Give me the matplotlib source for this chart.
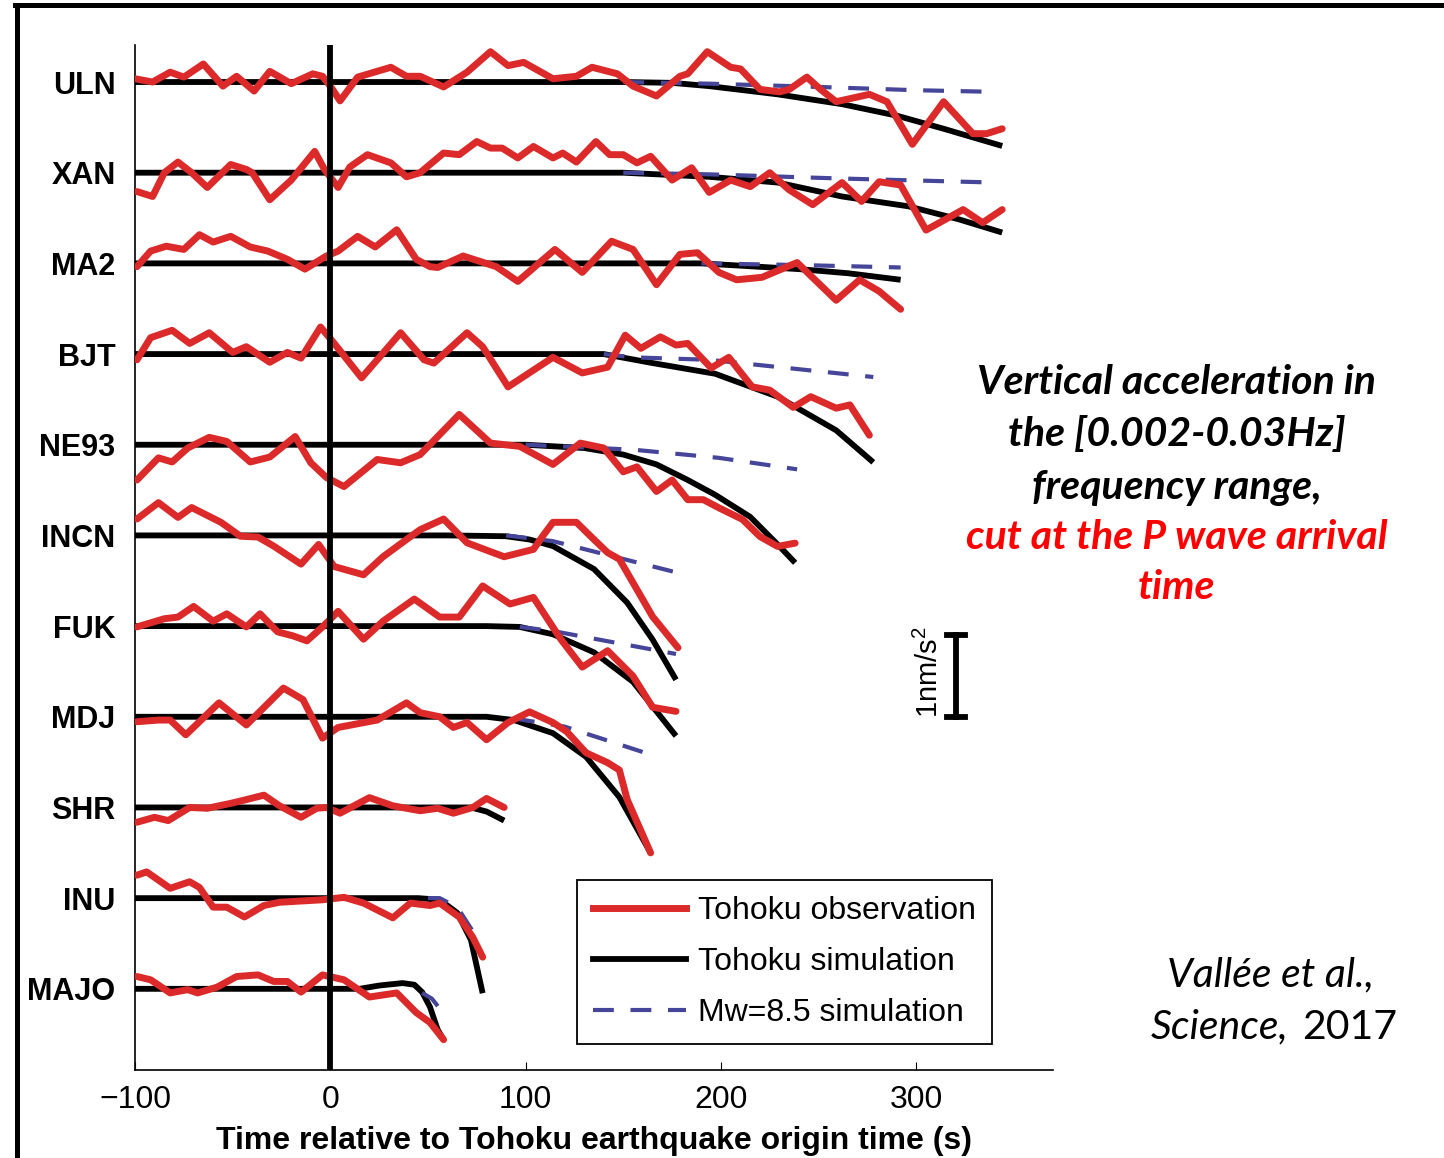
import matplotlib
matplotlib.use("Agg")
import matplotlib.pyplot as plt
from matplotlib.lines import Line2D

plt.rcParams["font.family"] = ["Liberation Sans", "DejaVu Sans"]
plt.rcParams["mathtext.fontset"] = "custom"
plt.rcParams["mathtext.rm"] = "Liberation Sans"
plt.rcParams["mathtext.it"] = "Liberation Sans:italic"

# stations, top to bottom
stations = ["ULN", "XAN", "MA2", "BJT", "NE93", "INCN", "FUK", "MDJ", "SHR", "INU", "MAJO"]
spacing = 1.106  # nm/s^2 between two traces

# time (s) / vertical acceleration (nm/s^2)
# obs = Tohoku observation, sim = Tohoku simulation, m85 = Mw=8.5 simulation
uln_obs_t = [-100, -91, -82, -75, -65, -55, -48, -39, -31, -20, -9, -4, 0, 5, 14, 31, 39, 46, 58, 70,
             82, 91, 99, 114, 126, 134, 147, 155, 167, 179, 183, 193, 205, 210, 220, 230, 235, 244, 251, 259,
             276, 285, 298, 314, 329, 336, 344]
uln_obs_a = [0.04, 0, 0.12, 0.06, 0.22, -0.05, 0.07, -0.11, 0.13, -0.02, 0.10, 0.07, -0.05, -0.23, 0.06, 0.18, 0.07, 0.07, -0.06, 0.12,
             0.37, 0.20, 0.24, 0.04, 0.07, 0.18, 0.10, -0.05, -0.17, 0.07, 0.10, 0.37, 0.18, 0.16, -0.09, -0.12, -0.09, 0.06, -0.09, -0.24,
             -0.15, -0.24, -0.76, -0.24, -0.63, -0.63, -0.57]
uln_sim_t = [-100, 150, 175, 194, 229, 262, 290, 314, 344]
uln_sim_a = [0, 0, -0.01, -0.05, -0.15, -0.27, -0.41, -0.57, -0.78]
uln_m85_t = [150, 194, 250, 300, 340]
uln_m85_a = [0, -0.02, -0.06, -0.10, -0.12]

xan_obs_t = [-99, -91, -85, -78, -71, -63, -51, -43, -40, -31, -20, -8, -3, 4, 10, 19, 31, 39, 46, 58,
             66, 75, 82, 88, 96, 104, 114, 119, 126, 136, 143, 150, 157, 164, 175, 185, 194, 205, 215, 225,
             235, 247, 262, 272, 281, 292, 305, 324, 334, 344]
xan_obs_a = [-0.23, -0.29, 0, 0.13, 0, -0.18, 0.10, 0.04, 0, -0.33, -0.09, 0.26, 0.04, -0.18, 0.07, 0.22, 0.12, -0.05, 0, 0.24,
             0.22, 0.38, 0.30, 0.30, 0.18, 0.32, 0.18, 0.24, 0.13, 0.38, 0.22, 0.22, 0.12, 0.20, -0.09, 0.06, -0.24, -0.09, -0.17, 0,
             -0.21, -0.39, -0.12, -0.35, -0.11, -0.15, -0.70, -0.45, -0.61, -0.45]
xan_sim_t = [-100, 150, 194, 229, 262, 296, 322, 344]
xan_sim_a = [0, 0, -0.05, -0.12, -0.29, -0.41, -0.57, -0.73]
xan_m85_t = [150, 194, 260, 340]
xan_m85_a = [0, -0.02, -0.07, -0.12]

ma2_obs_t = [-99, -92, -84, -75, -67, -60, -51, -41, -32, -22, -13, -2, 4, 14, 23, 34, 44, 51,
             55, 68, 85, 96, 115, 129, 144, 155, 167, 179, 188, 199,
             208, 221, 239, 259, 271, 281, 292]
ma2_obs_a = [-0.04, 0.15, 0.21, 0.17, 0.35, 0.26, 0.33, 0.20, 0.15, 0.05, -0.07, 0.09, 0.15, 0.33, 0.20, 0.41, 0.05, -0.04,
             -0.05, 0.09, -0.04, -0.22, 0.17, -0.11, 0.27, 0.17, -0.26, 0.11, 0.13, -0.11,
             -0.20, -0.17, 0.01, -0.45, -0.20, -0.34, -0.56]
ma2_sim_t = [-100, 190, 240, 265, 292]
ma2_sim_a = [0, 0, -0.07, -0.12, -0.20]
ma2_m85_t = [190, 240, 292]
ma2_m85_a = [0, -0.02, -0.05]

bjt_obs_t = [-99, -92, -81, -72, -62, -50, -43, -31, -22, -15, -5, 2, 16, 36, 48,
             53, 70, 78, 91, 114, 129, 142, 151, 159, 169, 177, 183, 195,
             204, 216, 225, 237, 246, 259, 266, 276]
bjt_obs_a = [-0.07, 0.20, 0.29, 0.13, 0.26, 0.02, 0.09, -0.10, 0.02, -0.05, 0.33, 0.13, -0.29, 0.26, -0.07,
             -0.11, 0.26, 0.09, -0.40, -0.04, -0.23, -0.16, 0.23, 0.07, 0.21, 0.11, 0.13, -0.17,
             -0.04, -0.40, -0.44, -0.65, -0.52, -0.66, -0.62, -0.99]
bjt_sim_t = [-100, 140, 165, 197, 229, 259, 278]
bjt_sim_a = [0, 0, -0.11, -0.24, -0.52, -0.93, -1.32]
bjt_m85_t = [140, 155, 194, 278]
bjt_m85_a = [0, -0.04, -0.07, -0.28]

ne93_obs_t = [-99, -88, -81, -73, -62, -53, -41, -31, -18, -10, -2, 7, 24, 36,
              46, 55, 66, 82, 97, 114, 128, 140, 150, 157, 167, 175, 183, 191, 199,
              211, 220, 229, 238]
ne93_obs_a = [-0.43, -0.16, -0.21, -0.04, 0.09, 0.04, -0.21, -0.15, 0.10, -0.22, -0.40, -0.51, -0.18, -0.22,
              -0.12, 0.10, 0.37, 0.02, -0.02, -0.24, 0.02, -0.04, -0.33, -0.27, -0.57, -0.43, -0.67, -0.67, -0.77,
              -0.91, -1.12, -1.24, -1.20]
ne93_sim_t = [-100, 100, 130, 150, 167, 183, 197, 215, 230, 238]
ne93_sim_a = [0, 0, -0.04, -0.12, -0.24, -0.43, -0.61, -0.88, -1.24, -1.44]
ne93_m85_t = [100, 155, 199, 239]
ne93_m85_a = [0, -0.06, -0.16, -0.30]

incn_obs_t = [-99, -88, -78, -71, -56, -46, -37, -29, -15, -6, 2, 17, 27, 39,
              46, 58, 70, 80, 89, 104, 109, 114, 126, 135, 142, 148, 157, 165, 178]
incn_obs_a = [0.20, 0.40, 0.22, 0.34, 0.16, -0.01, -0.02, -0.13, -0.35, -0.11, -0.38, -0.48, -0.26, -0.05,
              0.07, 0.20, -0.09, -0.18, -0.26, -0.17, 0, 0.16, 0.16, -0.05, -0.21, -0.29, -0.66, -0.99, -1.37]
incn_sim_t = [-100, 60, 90, 102, 114, 135, 152, 165, 177]
incn_sim_a = [0, 0, -0.01, -0.05, -0.13, -0.41, -0.82, -1.27, -1.76]
incn_m85_t = [90, 114, 177]
incn_m85_a = [0, -0.07, -0.45]

fuk_obs_t = [-99, -85, -78, -70, -60, -53, -43, -36, -27, -19, -12, -4, 4, 17, 27, 43,
             56, 66, 78, 92, 104, 118, 129, 142, 155, 165, 177]
fuk_obs_a = [-0.01, 0.09, 0.11, 0.24, 0.06, 0.15, -0.01, 0.15, -0.07, -0.12, -0.18, -0.01, 0.18, -0.16, 0.06, 0.33,
             0.11, 0.11, 0.49, 0.27, 0.35, -0.16, -0.50, -0.30, -0.61, -0.99, -1.04]
fuk_sim_t = [-100, 80, 97, 114, 135, 155, 177]
fuk_sim_a = [0, 0, -0.01, -0.10, -0.32, -0.68, -1.34]
fuk_m85_t = [97, 114, 177]
fuk_m85_a = [-0.01, -0.06, -0.34]

mdj_obs_t = [-99, -88, -82, -74, -57, -43, -24, -14, -4, 4, 24, 39,
             46, 56, 63, 70, 80, 91, 102, 114, 121, 131, 142, 148, 152, 164]
mdj_obs_a = [-0.06, -0.04, -0.04, -0.22, 0.17, -0.10, 0.35, 0.21, -0.26, -0.13, -0.04, 0.17,
             0.05, 0, -0.13, -0.07, -0.28, -0.07, 0.06, -0.07, -0.18, -0.44, -0.56, -0.65, -1.01, -1.66]
mdj_sim_t = [-100, 80, 94, 114, 131, 148, 164]
mdj_sim_a = [0, 0, -0.04, -0.20, -0.49, -0.98, -1.66]
mdj_m85_t = [94, 120, 160]
mdj_m85_a = [-0.02, -0.12, -0.43]

shr_obs_t = [-99, -90, -83, -72, -63, -51, -44, -34, -26, -15, -7, -2, 5, 20, 32, 46, 55, 63, 73, 80, 89]
shr_obs_a = [-0.18, -0.12, -0.16, 0, -0.01, 0.05, 0.09, 0.15, 0.02, -0.12, -0.01, 0, -0.07, 0.12, 0.02, -0.04,
             -0.01, -0.07, 0, 0.11, 0]
shr_sim_t = [-100, 72, 80, 89]
shr_sim_a = [0, 0, -0.05, -0.16]

inu_obs_t = [-99, -94, -82, -72, -67, -60, -53, -44, -34, -26, -4, 7, 17, 32, 41, 51, 56, 66, 73, 78]
inu_obs_a = [0.28, 0.32, 0.12, 0.20, 0.13, -0.11, -0.11, -0.23, -0.09, -0.05, -0.02, 0.01, -0.06, -0.24,
             -0.06, -0.09, -0.06, -0.23, -0.48, -0.72]
inu_sim_t = [-100, 45, 56, 65, 72, 78]
inu_sim_a = [0, 0, -0.02, -0.18, -0.51, -1.16]
inu_m85_t = [50, 56, 65, 75]
inu_m85_a = [0, 0, -0.11, -0.48]

majo_obs_t = [-99, -92, -82, -73, -68, -58, -48, -37, -29, -22, -15, -4, 7, 20, 34, 44, 51, 58]
majo_obs_a = [0.15, 0.11, -0.05, -0.01, -0.05, 0.02, 0.15, 0.17, 0.09, 0.09, -0.04, 0.17, 0.11, -0.10,
              -0.05, -0.29, -0.41, -0.62]
majo_sim_t = [-100, 15, 25, 37, 43, 47, 51, 55, 58]
majo_sim_a = [0, 0, 0.04, 0.07, 0.05, -0.04, -0.22, -0.50, -0.62]
majo_m85_t = [47, 52, 56, 59]
majo_m85_a = [-0.05, -0.12, -0.24, -0.37]

traces = [
    (uln_obs_t, uln_obs_a, uln_sim_t, uln_sim_a, uln_m85_t, uln_m85_a),
    (xan_obs_t, xan_obs_a, xan_sim_t, xan_sim_a, xan_m85_t, xan_m85_a),
    (ma2_obs_t, ma2_obs_a, ma2_sim_t, ma2_sim_a, ma2_m85_t, ma2_m85_a),
    (bjt_obs_t, bjt_obs_a, bjt_sim_t, bjt_sim_a, bjt_m85_t, bjt_m85_a),
    (ne93_obs_t, ne93_obs_a, ne93_sim_t, ne93_sim_a, ne93_m85_t, ne93_m85_a),
    (incn_obs_t, incn_obs_a, incn_sim_t, incn_sim_a, incn_m85_t, incn_m85_a),
    (fuk_obs_t, fuk_obs_a, fuk_sim_t, fuk_sim_a, fuk_m85_t, fuk_m85_a),
    (mdj_obs_t, mdj_obs_a, mdj_sim_t, mdj_sim_a, mdj_m85_t, mdj_m85_a),
    (shr_obs_t, shr_obs_a, shr_sim_t, shr_sim_a, [], []),
    (inu_obs_t, inu_obs_a, inu_sim_t, inu_sim_a, inu_m85_t, inu_m85_a),
    (majo_obs_t, majo_obs_a, majo_sim_t, majo_sim_a, majo_m85_t, majo_m85_a),
]

RED = "#dc2a2a"
BLUE = "#45459a"
LW_RED = 5.0
LW_BLACK = 4.2
LW_BLUE = 3.0

fig = plt.figure(figsize=(14.44, 11.58), dpi=100)
ax = fig.add_axes([0.0935, 0.076, 0.6357, 0.8851])

for i, (ot, oa, st, sa, mt, ma) in enumerate(traces):
    base = -i * spacing
    ax.plot(st, [base + v for v in sa], color="black", lw=LW_BLACK, zorder=2,
            solid_capstyle="butt", solid_joinstyle="round")
    if mt:
        ax.plot(mt, [base + v for v in ma], color=BLUE, lw=LW_BLUE, zorder=3, dashes=(5.0, 4.0))
    ax.plot(ot, [base + v for v in oa], color=RED, lw=LW_RED, zorder=4,
            solid_capstyle="round", solid_joinstyle="round")

ax.axvline(0, color="black", lw=LW_BLACK, zorder=5)

# 1 nm/s^2 scale bar
ax.plot([320.5, 320.5], [-6.74, -7.74], color="black", lw=LW_BLACK, clip_on=False)
ax.plot([316, 325], [-6.74, -6.74], color="black", lw=LW_BLACK, clip_on=False)
ax.plot([316, 325], [-7.74, -7.74], color="black", lw=LW_BLACK, clip_on=False)
ax.text(306.5, -7.2, "1nm/s$^2$", rotation=90, ha="center", va="center", fontsize=21)

ax.set_xlim(-100, 370)
ax.set_ylim(-12.05, 0.451)
ax.set_xticks([-100, 0, 100, 200, 300])
ax.set_yticks([-i * spacing for i in range(len(stations))])
ax.set_yticklabels(stations, fontweight="bold", fontsize=22)
ax.tick_params(axis="x", labelsize=23, direction="in", length=6, pad=11)
ax.tick_params(axis="y", direction="in", length=6, pad=14)
ax.set_xlabel("Time relative to Tohoku earthquake origin time (s)", fontsize=23,
              fontweight="bold", labelpad=8)
for s in ["top", "right"]:
    ax.spines[s].set_visible(False)
ax.spines["left"].set_linewidth(1.2)
ax.spines["bottom"].set_linewidth(1.2)

handles = [Line2D([], [], color=RED, lw=LW_RED),
           Line2D([], [], color="black", lw=LW_BLACK),
           Line2D([], [], color=BLUE, lw=LW_BLUE, dashes=(5.0, 4.0))]
leg = ax.legend(handles, ["Tohoku observation", "Tohoku simulation", "Mw=8.5 simulation"],
                loc="lower left", bbox_to_anchor=(0.4815, 0.0254), fontsize=23,
                handlelength=2.9, handletextpad=0.4, labelspacing=0.66,
                borderpad=0.5, borderaxespad=0, fancybox=False, framealpha=1, edgecolor="black")
leg.get_frame().set_linewidth(1.3)
leg.set_zorder(6)

# side annotations
side_font = ["Lato", "DejaVu Sans"]
for y, txt, col in [(0.670, "Vertical acceleration in", "black"),
                    (0.625, "the [0.002-0.03Hz]", "black"),
                    (0.579, "frequency range,", "black"),
                    (0.536, "cut at the P wave arrival", "red"),
                    (0.493, "time", "red")]:
    fig.text(0.815, y, txt, ha="center", va="center", fontsize=29.5, fontweight="bold",
             fontstyle="italic", color=col, family=side_font)

fig.text(0.808, 0.158, "Vallée et al.,", ha="left", va="center", fontsize=29.5,
         fontstyle="italic", family=side_font)
fig.text(0.892, 0.113, "Science,", ha="right", va="center", fontsize=29.5,
         fontstyle="italic", family=side_font)
fig.text(0.9675, 0.113, "2017", ha="right", va="center", fontsize=29.5, family=side_font)

# slide frame
fig.add_artist(Line2D([0.0118, 0.0118], [0, 0.996], color="black", lw=3.6))
fig.add_artist(Line2D([0.0105, 1.0], [0.996, 0.996], color="black", lw=3.6))

fig.savefig("out.png", dpi=100)
